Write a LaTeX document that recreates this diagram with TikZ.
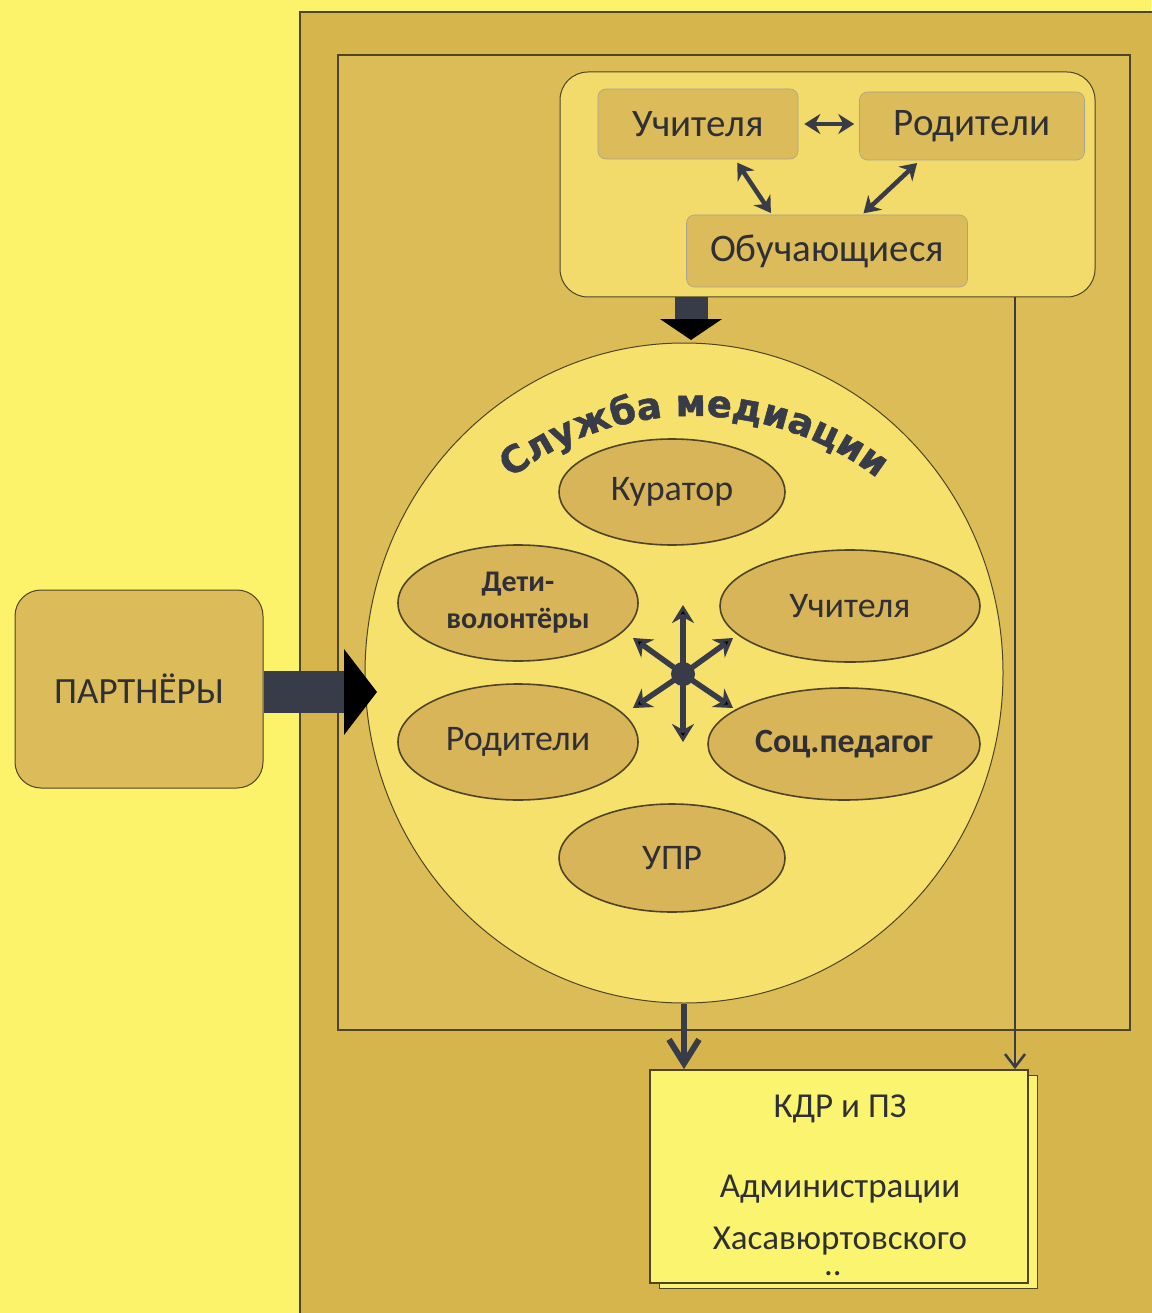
\documentclass[tikz,border=0pt]{standalone}
\usepackage{fontspec}
\setmainfont{Carlito}
\newfontface\heavyfont{DejaVu Sans Bold}[FakeBold=1.3]
\usetikzlibrary{arrows.meta,shapes.geometric,decorations.text,shadows}
\definecolor{bgY}{HTML}{FDF36A}
\definecolor{tanouter}{HTML}{D6B54C}
\definecolor{taninner}{HTML}{DCBC56}
\definecolor{topfill}{HTML}{F2DB6A}
\definecolor{smallfill}{HTML}{DCBB5A}
\definecolor{bigfill}{HTML}{F5E16C}
\definecolor{ellfill}{HTML}{D9B55A}
\definecolor{kdrfill}{HTML}{FBF46E}
\definecolor{darkc}{HTML}{383B48}
\definecolor{txtc}{HTML}{2F3036}
\definecolor{linec}{HTML}{4E4428}
\tikzset{
  frameline/.style={draw=linec, line width=1.2pt},
  topboxst/.style={draw=linec, line width=1pt, fill=topfill, rounded corners=28pt, inner sep=0pt},
  smallbox/.style={draw=linec!50, line width=0.6pt, fill=smallfill, rounded corners=8pt, inner sep=0pt,
    font=\fontsize{39}{44}\selectfont, text=txtc},
  bigell/.style={ellipse, draw=linec, line width=1pt, fill=bigfill, inner sep=0pt},
  inell/.style={ellipse, draw=linec, line width=1.6pt, fill=ellfill, inner sep=0pt,
    font=\fontsize{36}{40}\selectfont, text=txtc, align=center},
  partbox/.style={draw=linec, line width=1pt, fill=smallfill, rounded corners=26pt, inner sep=0pt,
    font=\fontsize{37}{40}\selectfont, text=txtc},
  kdrbox/.style={draw=linec, line width=1.8pt, fill=kdrfill, inner sep=0pt,
    copy shadow={shadow xshift=9pt, shadow yshift=-5pt, fill=kdrfill, draw=linec, line width=1pt}},
  kdrtext/.style={font=\fontsize{35}{40}\selectfont, text=txtc, anchor=base},
  dblarrow/.style={draw=darkc, line width=4.5pt, {Stealth[length=16pt,width=20pt]}-{Stealth[length=16pt,width=20pt]}},
  starrow/.style={draw=darkc, line width=5.5pt, -{Stealth[length=18pt,width=22pt]}},
  dotst/.style={circle, fill=darkc, minimum size=24pt, inner sep=0pt},
  blockdown/.style={draw=darkc, line width=33pt, -{Triangle[length=21pt,width=62pt,line width=0pt]}},
  blockright/.style={draw=darkc, line width=42pt, -{Triangle[length=33pt,width=86pt,line width=0pt]}},
  downV/.style={draw=darkc, line width=6pt, -{Straight Barb[length=24pt,width=30pt,line width=6pt]}},
  thinV/.style={draw=darkc, line width=2.5pt, -{Straight Barb[length=13pt,width=20pt,line width=2.5pt]}}
}
\begin{document}
\begin{tikzpicture}[x=1pt,y=-1pt]
\useasboundingbox (0,0) rectangle (1151,1313);
\fill[bgY] (0,0) rectangle (1151,1313);
% frames
\filldraw[frameline, fill=tanouter] (300,12) rectangle (1170,1330);
\filldraw[frameline, fill=taninner] (338,55) rectangle (1130,1030);
% top box
\node[topboxst, minimum width=535pt, minimum height=225pt] (top) at (827.5,184.5) {};
\node[smallbox, minimum width=200pt, minimum height=70pt] (uchT) at (698,124) {Учителя};
\node[smallbox, minimum width=225pt, minimum height=68pt] (rodT) at (972,126) {Родители};
\node[smallbox, minimum width=281pt, minimum height=72pt] (obuch) at (827,251) {Обучающиеся};
\draw[dblarrow, shorten <=6pt, shorten >=5pt] (uchT.east) -- (rodT.west |- uchT.east);
\draw[dblarrow, shorten <=4pt, shorten >=2pt] ([xshift=37pt]uchT.south) -- ([xshift=-55pt]obuch.north);
\draw[dblarrow, shorten <=4pt, shorten >=2pt] ([xshift=-52pt]rodT.south) -- ([xshift=35pt]obuch.north);
% big ellipse
\node[bigell, minimum width=638pt, minimum height=660pt] (med) at (684,673) {};
% arc title
\path[decorate, decoration={text along path, text align=center, text color=darkc,
  text={|\heavyfont\fontsize{37}{40}\selectfont|Служба медиации}}]
  (694,716) ++(-147:300) arc[start angle=-147, end angle=-33, radius=300];
% inner ellipses
\node[inell, minimum width=226pt, minimum height=106pt] (kur) at (672,492) {Куратор};
\node[inell, minimum width=240pt, minimum height=116pt, font=\bfseries\fontsize{30}{37}\selectfont] (deti) at (518,603) {Дети-\\волонтёры};
\node[inell, minimum width=260pt, minimum height=112pt] (uchI) at (850,606) {Учителя};
\node[inell, minimum width=240pt, minimum height=116pt] (rodI) at (518,742) {Родители};
\node[inell, minimum width=272pt, minimum height=112pt, font=\bfseries\fontsize{34}{36}\selectfont] (soc) at (844,744) {Соц.педагог};
\node[inell, minimum width=226pt, minimum height=108pt] (upr) at (672,858) {УПР};
% star
\node[dotst] (dot) at (683,674) {};
\coordinate (s1) at (683,605);
\coordinate (s2) at (683,742);
\coordinate (s3) at (633,638);
\coordinate (s4) at (733,638);
\coordinate (s5) at (633,708);
\coordinate (s6) at (733,708);
\foreach \s in {s1,s2,s3,s4,s5,s6} \draw[starrow] (dot.center) -- (\s);
% block arrow top -> ellipse
\coordinate (tbTip) at (691,340);
\draw[blockdown] (top.south -| tbTip) -- (tbTip);
% partners
\node[partbox, minimum width=248pt, minimum height=198pt] (part) at (139,689) {ПАРТНЁРЫ};
\coordinate (ptTip) at (377,692);
\draw[blockright] (part.east |- ptTip) -- (ptTip);
% KDR box
\node[kdrbox, minimum width=378pt, minimum height=213pt] (kdr) at (839,1176.5) {};
\node[kdrtext] (k1) at (840,1117) {КДР и ПЗ};
\node[kdrtext] (k2) at (840,1197) {Администрации};
\node[kdrtext] (k3) at (840,1249) {Хасавюртовского};
\node[kdrtext] (k4) at (833,1275) {..};
% connectors to KDR
\draw[downV] (med.south) -- (kdr.north -| med.south);
\coordinate (rline) at (1015,0);
\draw[thinV] (top.south -| rline) -- (kdr.north -| rline);
\end{tikzpicture}
\end{document}
